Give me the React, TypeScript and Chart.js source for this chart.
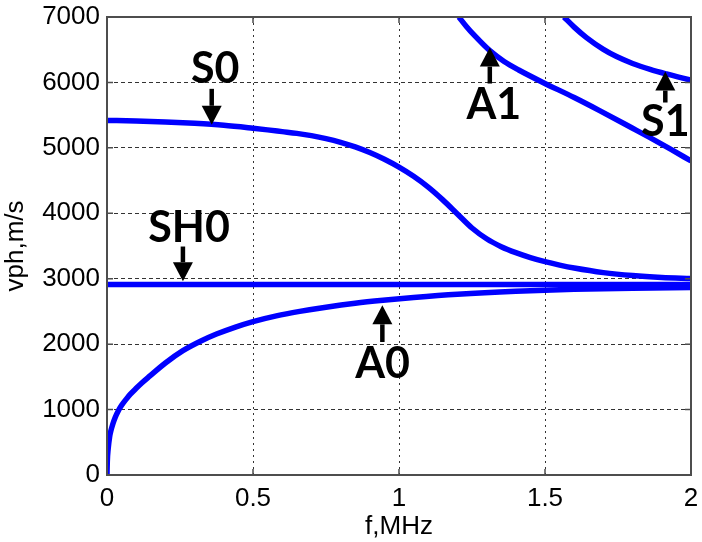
import React, { useEffect, useRef } from "react";
import { Chart, registerables } from "chart.js";

Chart.register(...registerables);

// ---- data (f in MHz, vph in m/s) ----
const fS0 = [0, 0.1, 0.2, 0.3, 0.4, 0.5, 0.55, 0.6, 0.65, 0.7, 0.75, 0.8, 0.85, 0.9, 0.95, 1.0, 1.05, 1.1, 1.15, 1.2, 1.25, 1.3, 1.35, 1.4, 1.45, 1.5, 1.55, 1.6, 1.7, 1.8, 1.9, 2.0];
const vS0 = [5420, 5412, 5397, 5375, 5345, 5300, 5275, 5248, 5221, 5187, 5142, 5085, 5014, 4928, 4825, 4705, 4565, 4400, 4205, 3990, 3775, 3610, 3490, 3398, 3323, 3260, 3208, 3163, 3093, 3048, 3020, 3004];

const fA0 = [0, 0.001, 0.004, 0.009, 0.013, 0.02, 0.028, 0.038, 0.05, 0.066, 0.08, 0.1, 0.12, 0.146, 0.2, 0.26, 0.32, 0.375, 0.44, 0.5, 0.58, 0.66, 0.75, 0.85, 0.945, 1.05, 1.2, 1.4, 1.6, 1.8, 2.0];
const vA0 = [0, 200, 400, 585, 670, 780, 880, 975, 1065, 1160, 1235, 1325, 1410, 1510, 1712, 1900, 2044, 2154, 2261, 2345, 2433, 2501, 2565, 2625, 2670, 2712, 2762, 2808, 2838, 2855, 2865];

const fSH0 = [0, 2];
const vSH0 = [2910, 2910];

const fA1 = [1.205, 1.23, 1.26, 1.311, 1.36, 1.41, 1.493, 1.6, 1.687, 1.8, 1.858, 1.93, 2.0];
const vA1 = [7000, 6860, 6710, 6485, 6320, 6190, 6000, 5770, 5570, 5300, 5160, 4980, 4800];

const fS1 = [1.565, 1.6, 1.642, 1.7, 1.745, 1.8, 1.86, 1.916, 2.0];
const vS1 = [7000, 6845, 6685, 6505, 6395, 6290, 6200, 6130, 6035];

const xTicks = [0, 0.5, 1, 1.5, 2];
const yTicks = [0, 1000, 2000, 3000, 4000, 5000, 6000, 7000];

// ---- annotations (data coordinates) ----
const annLabels = ["S0", "SH0", "A0", "A1", "S1"];
const annTextF = [0.3705, 0.281, 0.944, 1.325, 1.912];
const annTextV = [5994, 3558, 1475, 5440, 5185];
const annArrowF = [0.3586, 0.26, 0.943, 1.311, 1.912];
const annTailV = [5902, 3492, 2033, 5983, 5693];
const annTipV = [5353, 2963, 2593, 6532, 6166];

const BLUE = "#0000ff";

const toXY = (fs: number[], vs: number[]) => fs.map((x, i) => ({ x, y: vs[i] }));

const boxPlugin = {
  id: "matlabBox",
  afterDraw(chart: any) {
    const { ctx, chartArea: a, scales } = chart;
    ctx.save();
    ctx.strokeStyle = "#4d4d4d";
    ctx.lineWidth = 1.5;
    ctx.setLineDash([]);
    const tl = 6;
    ctx.beginPath();
    xTicks.forEach((t) => {
      const x = scales.x.getPixelForValue(t);
      ctx.moveTo(x, a.bottom);
      ctx.lineTo(x, a.bottom - tl);
      ctx.moveTo(x, a.top);
      ctx.lineTo(x, a.top + tl);
    });
    yTicks.forEach((t) => {
      const y = scales.y.getPixelForValue(t);
      ctx.moveTo(a.left, y);
      ctx.lineTo(a.left + tl, y);
      ctx.moveTo(a.right, y);
      ctx.lineTo(a.right - tl, y);
    });
    ctx.stroke();
    ctx.lineWidth = 2;
    ctx.strokeRect(a.left, a.top, a.right - a.left, a.bottom - a.top);
    ctx.restore();
  },
};

const annPlugin = {
  id: "modeLabels",
  afterDatasetsDraw(chart: any) {
    const { ctx, scales } = chart;
    ctx.save();
    ctx.fillStyle = "#000";
    ctx.strokeStyle = "#000";
    ctx.font = "bold 43px Lato";
    ctx.textAlign = "center";
    ctx.textBaseline = "alphabetic";
    annLabels.forEach((lab, i) => {
      const tx = scales.x.getPixelForValue(annTextF[i]);
      const ty = scales.y.getPixelForValue(annTextV[i]);
      ctx.fillText(lab, tx, ty);
      const ax = scales.x.getPixelForValue(annArrowF[i]);
      const y0 = scales.y.getPixelForValue(annTailV[i]);
      const y1 = scales.y.getPixelForValue(annTipV[i]);
      const dir = y1 > y0 ? 1 : -1;
      const head = 19;
      const hw = 10;
      ctx.lineWidth = 4.5;
      ctx.beginPath();
      ctx.moveTo(ax, y0);
      ctx.lineTo(ax, y1 - dir * head);
      ctx.stroke();
      ctx.beginPath();
      ctx.moveTo(ax, y1);
      ctx.lineTo(ax - hw, y1 - dir * head);
      ctx.lineTo(ax + hw, y1 - dir * head);
      ctx.closePath();
      ctx.fill();
    });
    ctx.restore();
  },
};

export default function App() {
  const ref = useRef<HTMLCanvasElement | null>(null);
  useEffect(() => {
    if (!ref.current) return;
    const ds = (d: { x: number; y: number }[]) => ({
      data: d,
      borderColor: BLUE,
      backgroundColor: BLUE,
      borderWidth: 5.5,
      pointRadius: 0,
      cubicInterpolationMode: "monotone" as const,
      fill: false,
    });
    const tickFont = { family: "'Liberation Sans', Arial, sans-serif", size: 26 };
    const chart = new Chart(ref.current, {
      type: "line",
      data: {
        datasets: [
          ds(toXY(fA0, vA0)),
          ds(toXY(fSH0, vSH0)),
          ds(toXY(fS0, vS0)),
          ds(toXY(fA1, vA1)),
          ds(toXY(fS1, vS1)),
        ],
      },
      options: {
        animation: false,
        responsive: false,
        devicePixelRatio: 1,
        layout: { padding: { left: 0, right: 11, top: 17, bottom: 0 } },
        plugins: { legend: { display: false }, tooltip: { enabled: false } },
        scales: {
          x: {
            type: "linear",
            min: 0,
            max: 2,
            afterFit: (s: any) => {
              s.height = 67;
              s.paddingLeft = 0;
              s.paddingRight = 0;
            },
            afterBuildTicks: (s: any) => {
              s.ticks = xTicks.map((v) => ({ value: v }));
            },
            border: { display: false, dash: [2, 4] },
            grid: {
              drawTicks: false,
              color: "#333",
              lineWidth: 1,
            },
            ticks: {
              padding: 8,
              color: "#000",
              font: tickFont,
              maxRotation: 0,
              callback: (v: any) => String(v),
            },
            title: {
              display: true,
              text: "f,MHz",
              color: "#000",
              font: tickFont,
              padding: { top: 0, bottom: 0 },
            },
          },
          y: {
            type: "linear",
            min: 0,
            max: 7000,
            afterFit: (s: any) => {
              s.width = 107;
              s.paddingTop = 0;
              s.paddingBottom = 0;
            },
            afterBuildTicks: (s: any) => {
              s.ticks = yTicks.map((v) => ({ value: v }));
            },
            border: { display: false, dash: [4, 3] },
            grid: {
              drawTicks: false,
              color: "#333",
              lineWidth: 1,
            },
            ticks: {
              padding: 7,
              color: "#000",
              font: tickFont,
              callback: (v: any) => String(v),
            },
            title: {
              display: true,
              text: "vph,m/s",
              color: "#000",
              font: tickFont,
              padding: { top: 0, bottom: 0 },
            },
          },
        },
      },
      plugins: [annPlugin, boxPlugin],
    } as any);
    return () => chart.destroy();
  }, []);
  return (
    <div style={{ position: "fixed", left: 0, top: 0, width: 702, height: 542, background: "#fff" }}>
      <canvas ref={ref} width={702} height={542} />
    </div>
  );
}
